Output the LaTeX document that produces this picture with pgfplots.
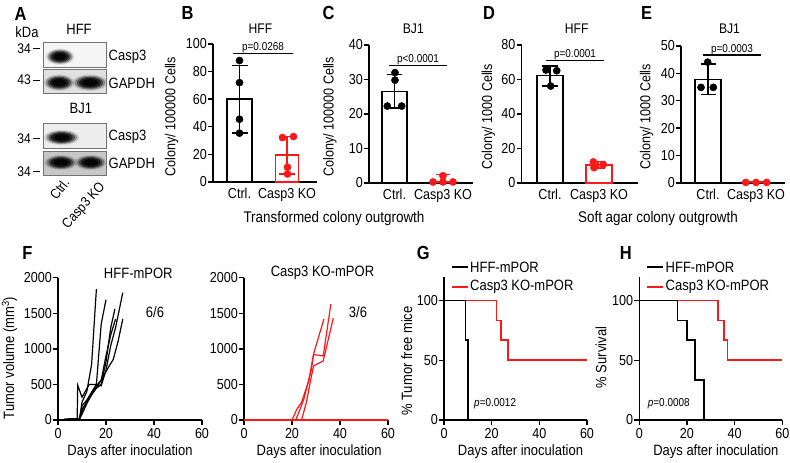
\documentclass[border=0pt]{standalone}
\usepackage{pgfplots}
\pgfplotsset{compat=1.18}
\usepackage{fontspec}
\setmainfont{Liberation Sans}[FakeStretch=0.87]
\definecolor{myred}{RGB}{250,25,25}
\newcommand\fs[1]{\fontsize{#1}{#1}\selectfont}
\newcommand\band[4]{%
  \foreach \s/\o in {1.15/0.12, 1.0/0.3, 0.85/0.45, 0.7/0.6, 0.5/0.8}{%
    \fill[black, opacity=\o] (#1,#2) ellipse[x radius={#3*\s}, y radius={#4*\s}];}}
\pgfplotsset{
  base/.style={scale only axis, clip=false, axis x line*=bottom, axis y line*=left,
    axis line style={line width=1.4bp}, tick style={line width=1.4bp, black},
    major tick length=5bp, tick align=outside,
    /pgf/number format/assume math mode=true, /pgf/number format/1000 sep={},
    ticklabel style={font=\fs{14.5}},
    y tick label style={inner sep=1bp}},
  barax/.style={base, xmin=0, ymin=0, xtick style={draw=none}, xticklabels={Ctrl., Casp3 KO},
    x tick label style={yshift=2.5bp}},
  bl/.style={black, line width=1.4bp},
  rl/.style={myred, line width=1.4bp},
  bd/.style={only marks, mark=*, mark size=3.6bp, black},
  rd/.style={only marks, mark=*, mark size=3.6bp, myred},
}
\begin{document}
\begin{tikzpicture}
\useasboundingbox (0,0) rectangle (790bp,463bp);
\begin{scope}[x=1bp,y=1bp]
% ---------------- Panel A (western blot) ----------------
\node[font=\fs{19}\bfseries] at (20.5,449) {A};
\node[font=\fs{15}] at (27,431.3) {kDa};
\node[font=\fs{15}] at (79,433.7) {HFF};
\node[font=\fs{15}] at (80.8,354.7) {BJ1};
\fill[black!4] (43.3,396) rectangle (106.7,421);
\band{60}{406.3}{12.5}{7}
\draw[black!55, line width=0.8bp] (43.3,396) rectangle (106.7,421);
\fill[black!12] (43.3,369.7) rectangle (106.7,393.7);
\band{59.2}{380.3}{13.5}{7}
\band{90}{380.3}{15.5}{7}
\draw[black!55, line width=0.8bp] (43.3,369.7) rectangle (106.7,393.7);
\fill[black!7] (43.3,314.7) rectangle (106.7,339.7);
\band{61.7}{325.5}{15.5}{6.5}
\draw[black!55, line width=0.8bp] (43.3,314.7) rectangle (106.7,339.7);
\fill[black!22] (43.3,288) rectangle (106.7,311.3);
\band{60.8}{300.5}{14.5}{6.5}
\band{90.7}{300.5}{14}{6.5}
\draw[black!55, line width=0.8bp] (43.3,288) rectangle (106.7,311.3);
\foreach \yy/\tt in {414.7/34, 383/43, 324.7/34, 291.3/34}{
  \node[font=\fs{14}, anchor=east, inner sep=0pt] at (31,\yy) {\tt};
  \draw[black, line width=0.8bp] (33,\yy) -- (40,\yy);}
\foreach \yy/\tt in {406.3/Casp3, 379.7/GAPDH, 326.3/Casp3, 299.7/GAPDH}{
  \node[font=\fs{15}, anchor=west, inner sep=0pt] at (108.5,\yy) {\tt};}
\node[font=\fs{14}, anchor=east, rotate=52, inner sep=0pt] at (66.5,283) {Ctrl.};
\node[font=\fs{14}, anchor=east, rotate=48, inner sep=0pt] at (103,278) {Casp3 KO};
% ---------------- texts top row ----------------
\node[font=\fs{19}\bfseries] at (187.5,450) {B};
\node[font=\fs{19}\bfseries] at (328.5,450) {C};
\node[font=\fs{19}\bfseries] at (489,450) {D};
\node[font=\fs{19}\bfseries] at (646.7,450) {E};
\node[font=\fs{14}] at (260.5,434) {HFF};
\node[font=\fs{14}] at (413.3,434) {BJ1};
\node[font=\fs{14}] at (576.7,434) {HFF};
\node[font=\fs{14}] at (729.5,434) {BJ1};
\node[font=\fs{14.5}, rotate=90] at (171.7,346.3) {Colony/ 100000 Cells};
\node[font=\fs{14.5}, rotate=90] at (330,346.3) {Colony/ 100000 Cells};
\node[font=\fs{14.5}, rotate=90] at (488.3,346.3) {Colony/ 1000 Cells};
\node[font=\fs{14.5}, rotate=90] at (646.7,346.3) {Colony/ 1000 Cells};
\node[font=\fs{15.5}] at (334,244) {Transformed colony outgrowth};
\node[font=\fs{15.5}] at (658,244) {Soft agar colony outgrowth};
% ---------------- texts bottom row ----------------
\node[font=\fs{19}\bfseries] at (27.5,210) {F};
\node[font=\fs{19}\bfseries] at (423.3,210) {G};
\node[font=\fs{19}\bfseries] at (625.8,210) {H};
\node[font=\fs{15}, rotate=90] at (9.5,105) {Tumor volume (mm\textsuperscript{3})};
\node[font=\fs{15}, rotate=90] at (406.7,102) {\% Tumor free mice};
\node[font=\fs{15}, rotate=90] at (601,105.5) {\% Survival};
\node[font=\fs{15}] at (138.3,189.7) {HFF-mPOR};
\node[font=\fs{15}] at (155,151.3) {6/6};
\node[font=\fs{15}] at (322.5,189.7) {Casp3 KO-mPOR};
\node[font=\fs{15}] at (358,151.3) {3/6};
\foreach \xx in {130,319.2,520.5,715.8}{
  \node[font=\fs{15}] at (\xx,11.3) {Days after inoculation};}
\end{scope}

% ---------------- B ----------------
\begin{axis}[barax, at={(213bp,281bp)}, width=104bp, height=138bp, xmax=104, ymax=100,
  ytick={0,20,...,100}, xtick={26.5,74}]
\addplot[ybar, bar width=25bp, bar shift=0pt, draw=black, fill=white, line width=1.4bp] coordinates {(26.5,60)};
\addplot[ybar, bar width=23bp, bar shift=0pt, draw=myred, fill=white, line width=1.4bp] coordinates {(74,19.5)};
\addplot[bl] coordinates {(26.5,35.5)(26.5,84.5)};
\addplot[bl] coordinates {(18.5,84.5)(34.5,84.5)};
\addplot[bl] coordinates {(18.5,35.5)(34.5,35.5)};
\addplot[rl] coordinates {(74,5.9)(74,33.1)};
\addplot[rl] coordinates {(66,33.1)(82,33.1)};
\addplot[rl] coordinates {(66,5.9)(82,5.9)};
\addplot[bd] coordinates {(26.5,88)(26.5,72)(26.5,45.5)(26.5,35.4)};
\addplot[rd] coordinates {(69.5,32.2)(80.5,32.9)(74.5,10.7)(74.5,5.8)};
\addplot[bl] coordinates {(20,93)(80,93)};
\node[font=\fs{11.5}, anchor=base, yshift=3bp] at (axis cs:50,93) {p=0.0268};
\end{axis}

% ---------------- C ----------------
\begin{axis}[barax, at={(369bp,280bp)}, width=104bp, height=138bp, xmax=104, ymax=40,
  ytick={0,10,...,40}, xtick={25.5,74}]
\addplot[ybar, bar width=25bp, bar shift=0pt, draw=black, fill=white, line width=1.4bp] coordinates {(25.5,26.6)};
\addplot[bl] coordinates {(25.5,21.7)(25.5,31.5)};
\addplot[bl] coordinates {(18,31.5)(33,31.5)};
\addplot[bl] coordinates {(18,21.7)(33,21.7)};
\addplot[rl] coordinates {(74,0)(74,2.5)};
\addplot[rl] coordinates {(67,2.5)(81,2.5)};
\addplot[myred, line width=2bp] coordinates {(62,0.2)(86,0.2)};
\addplot[bd] coordinates {(26,32)(26,29.8)(18.3,22.3)(32.7,22.3)};
\addplot[rd] coordinates {(64,0.3)(74,0.3)(84,0.3)(74,2.1)};
\addplot[bl] coordinates {(20,34)(78,34)};
\node[font=\fs{11.5}, anchor=base, yshift=3bp] at (axis cs:49,34) {p<0.0001};
\end{axis}

% ---------------- D ----------------
\begin{axis}[barax, at={(521.5bp,280bp)}, width=116.5bp, height=138bp, xmax=116.5, ymax=80,
  ytick={0,20,...,80}, xtick={28.5,77.5}]
\addplot[ybar, bar width=26bp, bar shift=0pt, draw=black, fill=white, line width=1.4bp] coordinates {(28.5,62.3)};
\addplot[ybar, bar width=26bp, bar shift=0pt, draw=myred, fill=white, line width=1.4bp] coordinates {(77.5,10.4)};
\addplot[bl] coordinates {(28.5,56.3)(28.5,67.9)};
\addplot[bl] coordinates {(20.5,67.9)(36.5,67.9)};
\addplot[bl] coordinates {(20.5,56.3)(36.5,56.3)};
\addplot[rl] coordinates {(76.5,8.6)(76.5,12.3)};
\addplot[rl] coordinates {(69.5,12.3)(83.5,12.3)};
\addplot[rl] coordinates {(69.5,8.6)(83.5,8.6)};
\addplot[bd] coordinates {(24.5,65.5)(35.2,65.1)(29.2,56.2)};
\addplot[rd] coordinates {(71.8,12.2)(72.5,8.9)(81.8,10.7)};
\addplot[bl] coordinates {(24.5,71)(82.5,71)};
\node[font=\fs{11.5}, anchor=base, yshift=3bp] at (axis cs:53.5,71) {p=0.0001};
\end{axis}

% ---------------- E ----------------
\begin{axis}[barax, at={(681bp,280bp)}, width=104bp, height=137bp, xmax=104, ymax=50,
  ytick={0,10,...,50}, xtick={27,75}]
\addplot[ybar, bar width=26bp, bar shift=0pt, draw=black, fill=white, line width=1.4bp] coordinates {(27,37.8)};
\addplot[bl] coordinates {(27,32.2)(27,43.4)};
\addplot[bl] coordinates {(19.5,43.4)(34.5,43.4)};
\addplot[bl] coordinates {(19.5,32.2)(34.5,32.2)};
\addplot[bd] coordinates {(26.7,44.1)(20,34.9)(32.3,34.9)};
\addplot[myred, line width=2bp] coordinates {(64.7,0.2)(85.7,0.2)};
\addplot[rd] coordinates {(64.7,0.2)(75,0.2)(85.7,0.2)};
\addplot[bl] coordinates {(22,46.7)(80,46.7)};
\node[font=\fs{11.5}, anchor=base, yshift=3bp] at (axis cs:51,46.7) {p=0.0003};
\end{axis}

% ---------------- F left ----------------
\begin{axis}[base, at={(58bp,43bp)}, width=144bp, height=142.3bp, xmin=0, xmax=60, ymin=0, ymax=2000,
  xtick={0,20,40,60}, ytick={0,500,...,2000}]
\addplot[black, line width=1.2bp] coordinates {(0,0)(9,20)(10,250)(12,400)(14,780)(16,1840)};
\addplot[black, line width=1.2bp] coordinates {(0,0)(8,20)(8.2,490)(10,320)(13,500)(16,500)(18,1350)(20,1690)};
\addplot[black, line width=1.2bp] coordinates {(0,0)(9,20)(10,120)(13,330)(16,500)(18,480)(20,700)(22,1050)(24,1300)(27,1790)};
\addplot[black, line width=1.2bp] coordinates {(0,0)(9,20)(10,80)(12,230)(15,420)(18,500)(20,820)(22,1300)(23.7,1560)};
\addplot[black, line width=1.2bp] coordinates {(0,0)(9,20)(10,150)(13,300)(16,450)(19,620)(21,740)(23,850)(25,1100)(27,1420)};
\addplot[black, line width=1.2bp] coordinates {(0,0)(9,20)(10,200)(12,280)(15,440)(18,560)(20,900)(22,1200)(24,1420)};
\end{axis}

% ---------------- F right ----------------
\begin{axis}[base, at={(244bp,43bp)}, width=144bp, height=142.3bp, xmin=0, xmax=60, ymin=0, ymax=2000,
  xtick={0,20,40,60}, ytick={0,500,...,2000}]
\addplot[myred, line width=2.4bp] coordinates {(0,0)(60,0)};
\addplot[myred, line width=1.2bp] coordinates {(20,0)(22,150)(24,250)(27,550)(29,930)(33.3,1420)};
\addplot[myred, line width=1.2bp] coordinates {(21.5,0)(23,120)(25,300)(28,700)(29,920)(33,900)(36.2,1630)};
\addplot[myred, line width=1.2bp] coordinates {(24,0)(26,250)(28,600)(29,760)(33,830)(37.2,1430)};
\end{axis}

% ---------------- G ----------------
\begin{axis}[base, at={(444bp,43bp)}, width=143bp, height=143.3bp, xmin=0, xmax=60, ymin=0, ymax=120,
  xtick={0,20,40,60}, ytick={0,50,100}]
\addplot[myred, line width=1.8bp] coordinates {(0,100)(22,100)(22,83.3)(24,83.3)(24,66.7)(27,66.7)(27,50)(60,50)};
\addplot[black, line width=1.8bp] coordinates {(0,100)(9,100)(9,66.7)(10,66.7)(10,0)};
\addplot[black, line width=1.8bp] coordinates {(3.4,128.1)(10.1,128.1)};
\addplot[myred, line width=1.8bp] coordinates {(3.4,111.4)(10.1,111.4)};
\node[anchor=west, font=\fs{15}, inner sep=0pt] at (axis cs:10.9,128.1) {HFF-mPOR};
\node[anchor=west, font=\fs{15}, inner sep=0pt] at (axis cs:10.9,111.4) {Casp3 KO-mPOR};
\node[anchor=west, font=\fs{11.5}, inner sep=0pt] at (axis cs:12.6,14) {\textit{p}=0.0012};
\end{axis}

% ---------------- H ----------------
\begin{axis}[base, at={(639.3bp,43bp)}, width=143bp, height=143.3bp, xmin=0, xmax=60, ymin=0, ymax=120,
  xtick={0,20,40,60}, ytick={0,50,100}]
\addplot[myred, line width=1.8bp] coordinates {(0,100)(33,100)(33,83.3)(35.5,83.3)(35.5,66.7)(37,66.7)(37,50)(60,50)};
\addplot[black, line width=1.8bp] coordinates {(0,100)(16,100)(16,83.3)(20,83.3)(20,66.7)(23.5,66.7)(23.5,33.3)(27,33.3)(27,0)};
\addplot[black, line width=1.8bp] coordinates {(3.1,128.1)(10.1,128.1)};
\addplot[myred, line width=1.8bp] coordinates {(3.1,111.4)(10.1,111.4)};
\node[anchor=west, font=\fs{15}, inner sep=0pt] at (axis cs:11,128.1) {HFF-mPOR};
\node[anchor=west, font=\fs{15}, inner sep=0pt] at (axis cs:11,111.4) {Casp3 KO-mPOR};
\node[anchor=west, font=\fs{11.5}, inner sep=0pt] at (axis cs:3.5,14) {\textit{p}=0.0008};
\end{axis}
\end{tikzpicture}
\end{document}
